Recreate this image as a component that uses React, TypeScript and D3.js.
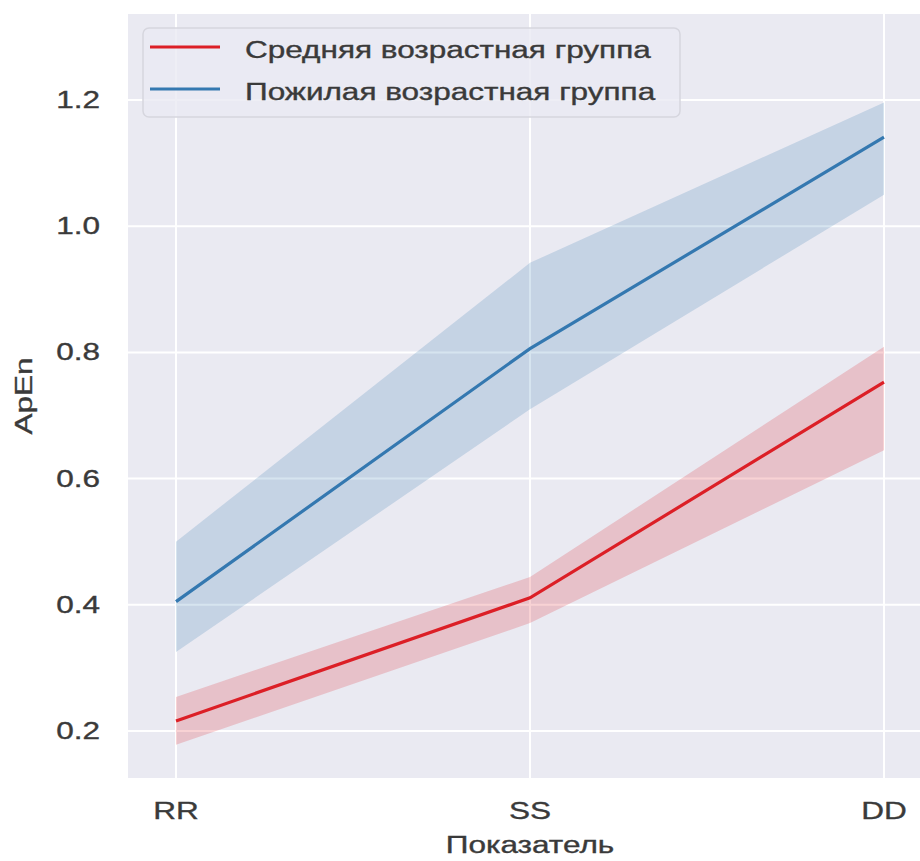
import { useEffect, useRef } from 'react';
import * as d3 from 'd3';

// ── Data ──
const CATEGORIES = ['RR', 'SS', 'DD'];
const SERIES_NAMES = ['Средняя возрастная группа', 'Пожилая возрастная группа'];
const MIDDLE_MEAN = [0.216, 0.411, 0.753];
const MIDDLE_LO = [0.178, 0.371, 0.645];
const MIDDLE_HI = [0.254, 0.444, 0.809];
const OLDER_MEAN = [0.405, 0.806, 1.141];
const OLDER_LO = [0.325, 0.71, 1.05];
const OLDER_HI = [0.5, 0.942, 1.196];
const Y_TICKS = [0.2, 0.4, 0.6, 0.8, 1.0, 1.2];

const COLORS = ['#dc1f26', '#3478b0'];

const W = 920;
const H = 861;
const PLOT = { left: 128, right: 940, top: 14, bottom: 778 };
const FONT = '"Liberation Sans", Arial, sans-serif';
const FS = 23;
const SX = 1.37; // the source image is stretched horizontally

export default function App() {
  const svgRef = useRef<SVGSVGElement>(null);

  useEffect(() => {
    const svgEl = svgRef.current;
    if (!svgEl) return;
    const svg = d3.select(svgEl);
    svg.selectAll('*').remove();

    const x = d3.scalePoint<string>().domain(CATEGORIES).range([176, 884]);
    const y = d3.scaleLinear().domain([0.1255, 1.3363]).range([PLOT.bottom, PLOT.top]);

    // helper for stretched text
    const txt = (gx: number, gy: number, s: string, anchor: string, rotate = false) =>
      svg
        .append('text')
        .attr(
          'transform',
          rotate
            ? `translate(${gx},${gy}) rotate(-90) scale(${SX},1)`
            : `translate(${gx},${gy}) scale(${SX},1)`,
        )
        .attr('text-anchor', anchor)
        .attr('dominant-baseline', 'central')
        .attr('font-family', FONT)
        .attr('font-size', FS)
        .attr('fill', '#3a3a3a')
        .attr('stroke', '#3a3a3a')
        .attr('stroke-width', 0.35)
        .text(s);

    // plot background
    svg
      .append('rect')
      .attr('x', PLOT.left)
      .attr('y', PLOT.top)
      .attr('width', PLOT.right - PLOT.left)
      .attr('height', PLOT.bottom - PLOT.top)
      .attr('fill', '#eaeaf2');

    // grid
    svg
      .selectAll('.hgrid')
      .data(Y_TICKS)
      .enter()
      .append('line')
      .attr('x1', PLOT.left)
      .attr('x2', PLOT.right)
      .attr('y1', (d) => y(d))
      .attr('y2', (d) => y(d))
      .attr('stroke', '#fff')
      .attr('stroke-width', 2);
    svg
      .selectAll('.vgrid')
      .data(CATEGORIES)
      .enter()
      .append('line')
      .attr('x1', (d) => x(d)!)
      .attr('x2', (d) => x(d)!)
      .attr('y1', PLOT.top)
      .attr('y2', PLOT.bottom)
      .attr('stroke', '#fff')
      .attr('stroke-width', 2);

    // bands + lines
    const series = [
      { mean: MIDDLE_MEAN, lo: MIDDLE_LO, hi: MIDDLE_HI },
      { mean: OLDER_MEAN, lo: OLDER_LO, hi: OLDER_HI },
    ];
    series.forEach((s, i) => {
      const rows = CATEGORIES.map((c, j) => ({ c, lo: s.lo[j], hi: s.hi[j] }));
      const area = d3
        .area<(typeof rows)[number]>()
        .x((d) => x(d.c)!)
        .y0((d) => y(d.lo))
        .y1((d) => y(d.hi));
      svg.append('path').attr('d', area(rows)).attr('fill', COLORS[i]).attr('fill-opacity', 0.2);
    });
    series.forEach((s, i) => {
      const rows = CATEGORIES.map((c, j) => ({ c, m: s.mean[j] }));
      const line = d3
        .line<(typeof rows)[number]>()
        .x((d) => x(d.c)!)
        .y((d) => y(d.m));
      svg
        .append('path')
        .attr('d', line(rows))
        .attr('fill', 'none')
        .attr('stroke', COLORS[i])
        .attr('stroke-width', 3.2);
    });

    // ticks
    Y_TICKS.forEach((t) => txt(100, y(t), t.toFixed(1), 'end'));
    CATEGORIES.forEach((c) => txt(x(c)!, 811, c, 'middle'));

    // axis titles
    txt(530, 845, 'Показатель', 'middle');
    txt(24, (PLOT.top + PLOT.bottom) / 2, 'ApEn', 'middle', true);

    // legend
    svg
      .append('rect')
      .attr('x', 143)
      .attr('y', 28)
      .attr('width', 537)
      .attr('height', 89)
      .attr('rx', 6)
      .attr('fill', '#eaeaf2')
      .attr('fill-opacity', 0.8)
      .attr('stroke', '#d6d6de')
      .attr('stroke-width', 1.5);
    SERIES_NAMES.forEach((name, i) => {
      const ly = 47 + i * 42;
      svg
        .append('line')
        .attr('x1', 150)
        .attr('x2', 220)
        .attr('y1', ly)
        .attr('y2', ly)
        .attr('stroke', COLORS[i])
        .attr('stroke-width', 3.2);
      txt(245, ly + 3, name, 'start');
    });
  }, []);

  return (
    <svg
      ref={svgRef}
      width={W}
      height={H}
      style={{ position: 'absolute', left: 0, top: 0, background: '#fff', display: 'block' }}
    />
  );
}
